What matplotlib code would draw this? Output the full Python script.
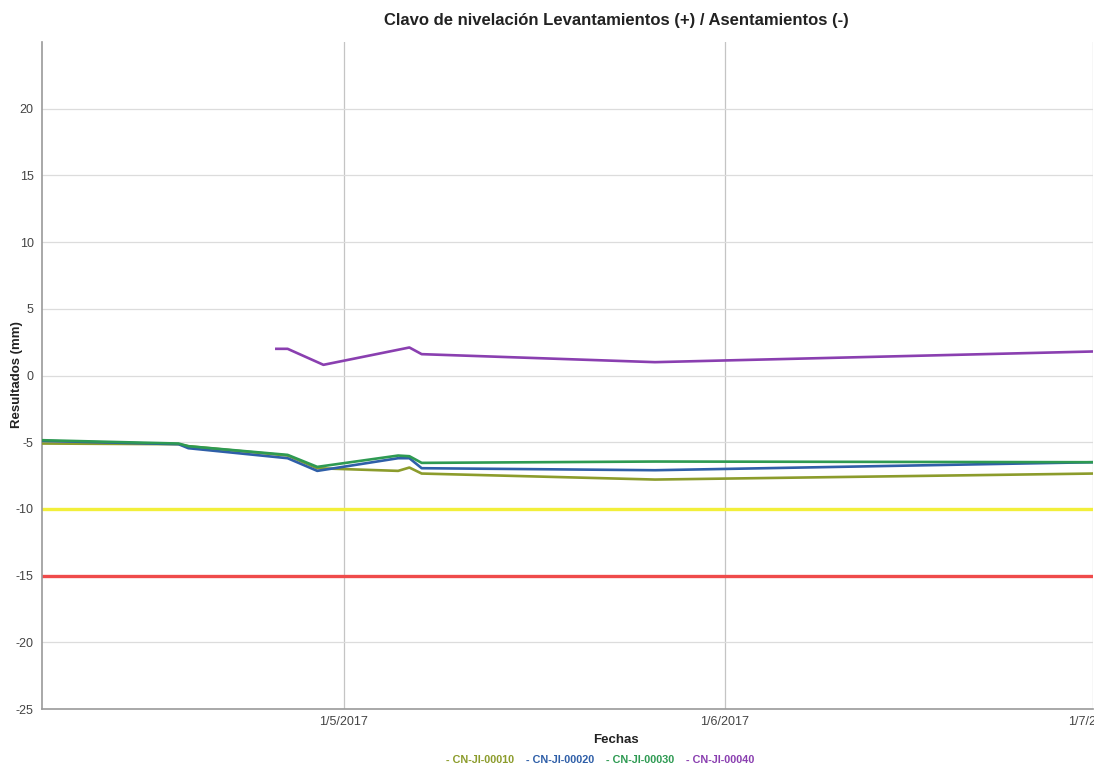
import numpy as np
import pandas as pd
import matplotlib
matplotlib.use('Agg')
import matplotlib.pyplot as plt
import matplotlib.dates as mdates
from matplotlib.ticker import FuncFormatter

plt.rcParams['font.family'] = ['Liberation Sans', 'DejaVu Sans']
plt.rcParams['axes.unicode_minus'] = False

# fechas comunes de las series 00010 / 00020 / 00030
fechas = pd.to_datetime(['2017-04-06 10:00', '2017-04-17 13:00', '2017-04-18 08:00',
                         '2017-04-26 10:00', '2017-04-28 20:00', '2017-05-05 10:00',
                         '2017-05-06 08:00', '2017-05-07 08:00', '2017-05-26 08:00',
                         '2017-07-01 00:00'])
cn10 = [-5.1, -5.15, -5.3, -6.0, -6.95, -7.15, -6.9, -7.35, -7.8, -7.35]
cn20 = [-4.9, -5.15, -5.45, -6.2, -7.15, -6.2, -6.2, -6.95, -7.1, -6.5]
cn30 = [-4.85, -5.1, -5.3, -5.95, -6.85, -6.0, -6.05, -6.55, -6.45, -6.5]

fechas40 = pd.to_datetime(['2017-04-25 12:00', '2017-04-26 10:00', '2017-04-29 08:00',
                           '2017-05-06 08:00', '2017-05-07 08:00', '2017-05-26 08:00',
                           '2017-07-01 00:00'])
cn40 = [2.0, 2.0, 0.8, 2.1, 1.6, 1.0, 1.8]

umbral_amarillo = -10
umbral_rojo = -15

series = ['CN-JI-00010', 'CN-JI-00020', 'CN-JI-00030', 'CN-JI-00040']
colores = ['#8c9c2c', '#2f5fa8', '#2e9a52', '#8a3fb0']

fig = plt.figure(figsize=(10.94, 7.67), dpi=100)
ax = fig.add_axes([42/1094, 1 - 709/767, (1093 - 42)/1094, (709 - 42)/767])

x0 = pd.Timestamp('2017-04-06 10:00')
x1 = pd.Timestamp('2017-07-01 00:00')

ax.axhline(umbral_amarillo, color='#f2ef3a', lw=2.4, zorder=2)
ax.axhline(umbral_rojo, color='#ef4b4b', lw=2.4, zorder=2)

ax.plot(fechas, cn10, color=colores[0], lw=1.9, zorder=3)
ax.plot(fechas, cn20, color=colores[1], lw=1.9, zorder=3)
ax.plot(fechas, cn30, color=colores[2], lw=1.9, zorder=4)
ax.plot(fechas40, cn40, color=colores[3], lw=1.9, zorder=3)

ax.set_xlim(x0, x1)
ax.set_ylim(-25, 25)
ax.set_yticks(np.arange(-25, 21, 5))
ax.xaxis.set_major_locator(mdates.MonthLocator(bymonthday=1))
ax.xaxis.set_major_formatter(FuncFormatter(
    lambda v, p: '{}/{}/{}'.format(mdates.num2date(v).day, mdates.num2date(v).month,
                                    mdates.num2date(v).year)))

ax.grid(axis='y', color='#dcdcdc', lw=0.9, zorder=0)
ax.grid(axis='x', color='#c4c4c4', lw=0.9, zorder=0)
for s in ['top', 'right']:
    ax.spines[s].set_visible(False)
for s in ['left', 'bottom']:
    ax.spines[s].set_color('#9a9a9a')
    ax.spines[s].set_linewidth(1.2)
ax.tick_params(length=0, labelsize=9, labelcolor='#444444', pad=6)
ax.tick_params(axis='x', pad=5)

fig.text(17/1094, 1 - 375/767, 'Resultados (mm)', rotation=90, ha='center', va='center',
         fontsize=9.5, fontweight='bold', color='#222222')

fig.text(616/1094, 1 - 20/767, 'Clavo de nivelación Levantamientos (+) / Asentamientos (-)',
         ha='center', va='center', fontsize=12, fontweight='bold', color='#222222')
fig.text(616/1094, 1 - 740/767, 'Fechas', ha='center', va='center',
         fontsize=9.5, fontweight='bold', color='#222222')

xs = [446, 526, 606, 686]
for xp, nombre, c in zip(xs, series, colores):
    fig.text(xp/1094, 1 - 760/767, '- ' + nombre, ha='left', va='center',
             fontsize=7.8, fontweight='bold', color=c)

fig.savefig('out.png', dpi=100)
